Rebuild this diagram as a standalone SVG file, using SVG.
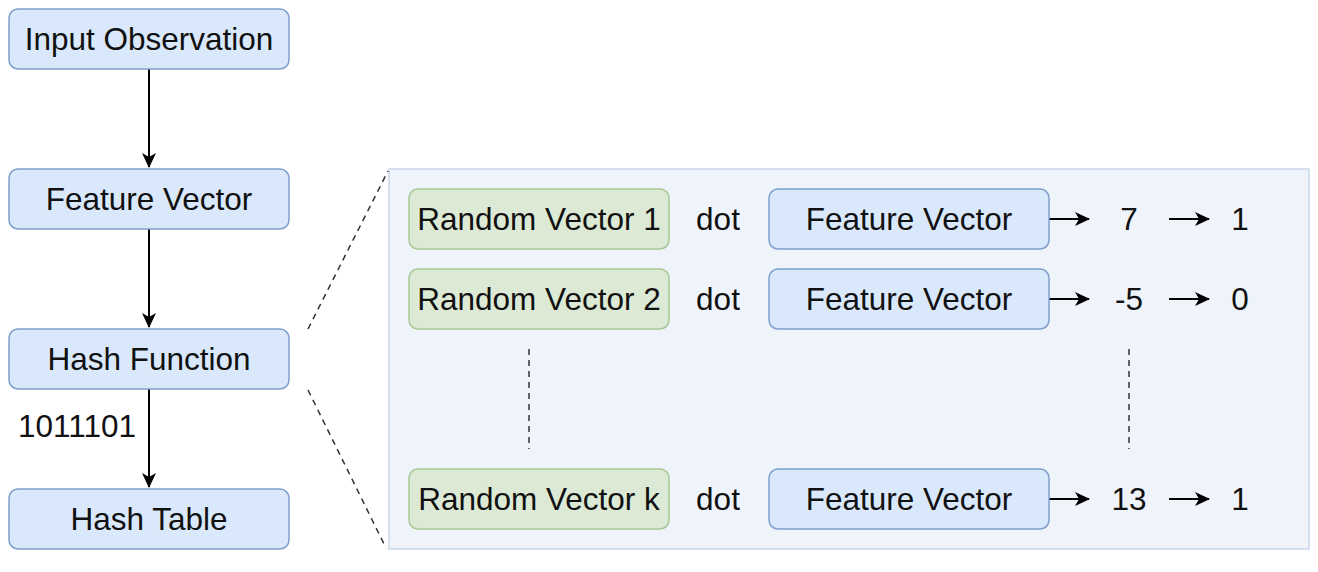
<svg xmlns="http://www.w3.org/2000/svg" width="1318" height="572" viewBox="0 0 1318 572">
<style>
.b{fill:#dae8fc;stroke:#7f9ecb;stroke-width:1.5}
.g{fill:#dce9d5;stroke:#a6c795;stroke-width:1.5}
.t{font-family:"Liberation Sans",Arial,sans-serif;font-size:31.5px;fill:#111;text-anchor:middle}
.c{stroke:#000;stroke-width:2;fill:none}
.d{stroke:#333;stroke-width:1.5;fill:none;stroke-dasharray:6 5}
</style>
<defs>
<marker id="ah" viewBox="0 0 15 14" refX="14" refY="7" markerWidth="7.5" markerHeight="7" markerUnits="strokeWidth" orient="auto">
<path d="M0,0 L15,7 L0,14 L4,7 Z" fill="#000"/>
</marker>
</defs>
<rect id="panel" x="389" y="169" width="920" height="380" fill="#eff4fb" stroke="#c9d6ea" stroke-width="1.5"/>
<g id="connectors">
<line class="c" x1="149" y1="69" x2="149" y2="167" marker-end="url(#ah)"/>
<line class="c" x1="149" y1="229" x2="149" y2="327" marker-end="url(#ah)"/>
<line class="c" x1="149" y1="389" x2="149" y2="487" marker-end="url(#ah)"/>
<line class="d" x1="308" y1="329" x2="388" y2="171"/>
<line class="d" x1="308" y1="390" x2="386" y2="548"/>
<line class="d" x1="529" y1="349" x2="529" y2="449"/>
<line class="d" x1="1129" y1="349" x2="1129" y2="449"/>
<line class="c" x1="1049" y1="219" x2="1089" y2="219" marker-end="url(#ah)"/>
<line class="c" x1="1169" y1="219" x2="1209" y2="219" marker-end="url(#ah)"/>
<line class="c" x1="1049" y1="299" x2="1089" y2="299" marker-end="url(#ah)"/>
<line class="c" x1="1169" y1="299" x2="1209" y2="299" marker-end="url(#ah)"/>
<line class="c" x1="1049" y1="499" x2="1089" y2="499" marker-end="url(#ah)"/>
<line class="c" x1="1169" y1="499" x2="1209" y2="499" marker-end="url(#ah)"/>
</g>
<g id="input"><rect class="b" x="9" y="9" width="280" height="60" rx="9"/><text class="t" x="149" y="50">Input Observation</text></g>
<g id="feature"><rect class="b" x="9" y="169" width="280" height="60" rx="9"/><text class="t" x="149" y="210">Feature Vector</text></g>
<g id="hash"><rect class="b" x="9" y="329" width="280" height="60" rx="9"/><text class="t" x="149" y="370">Hash Function</text></g>
<g id="table"><rect class="b" x="9" y="489" width="280" height="60" rx="9"/><text class="t" x="149" y="530">Hash Table</text></g>
<text class="t" x="77" y="437">1011101</text>
<g id="rv1"><rect class="g" x="409" y="189" width="260" height="60" rx="9"/><text class="t" x="539" y="230">Random Vector 1</text></g>
<g id="rv2"><rect class="g" x="409" y="269" width="260" height="60" rx="9"/><text class="t" x="539" y="310">Random Vector 2</text></g>
<g id="rvk"><rect class="g" x="409" y="469" width="260" height="60" rx="9"/><text class="t" x="539" y="510">Random Vector k</text></g>
<text class="t" x="718" y="230">dot</text>
<text class="t" x="718" y="310">dot</text>
<text class="t" x="718" y="510">dot</text>
<g id="fv1"><rect class="b" x="769" y="189" width="280" height="60" rx="9"/><text class="t" x="909" y="230">Feature Vector</text></g>
<g id="fv2"><rect class="b" x="769" y="269" width="280" height="60" rx="9"/><text class="t" x="909" y="310">Feature Vector</text></g>
<g id="fvk"><rect class="b" x="769" y="469" width="280" height="60" rx="9"/><text class="t" x="909" y="510">Feature Vector</text></g>
<text class="t" x="1129" y="230">7</text>
<text class="t" x="1129" y="310">-5</text>
<text class="t" x="1129" y="510">13</text>
<text class="t" x="1240" y="230">1</text>
<text class="t" x="1240" y="310">0</text>
<text class="t" x="1240" y="510">1</text>
</svg>
